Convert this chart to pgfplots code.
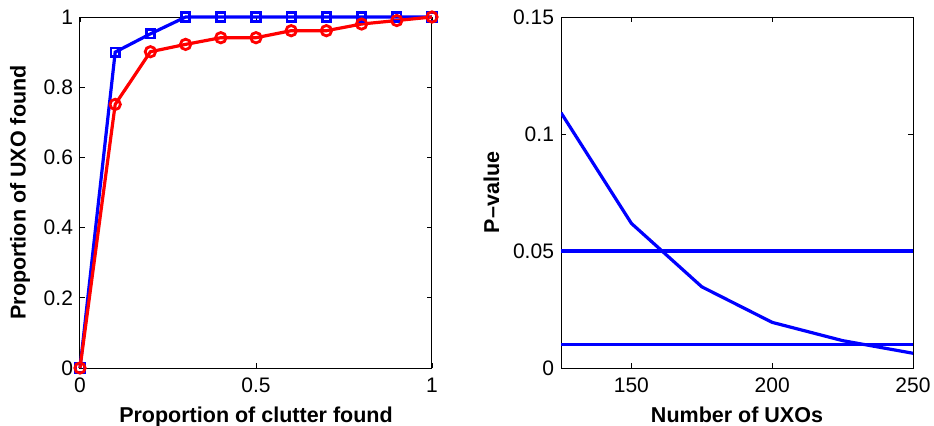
\documentclass[border=0pt]{standalone}
\usepackage{fontspec}
\setmainfont{Liberation Sans}
\usepackage{pgfplots}
\pgfplotsset{compat=1.18}

\definecolor{mblue}{rgb}{0,0,1}
\definecolor{mred}{rgb}{1,0,0}

\pgfplotsset{
  matlab/.style={
    scale only axis,
    width=176pt, height=175.5pt,
    axis line style={line width=0.5pt},
    tick align=inside,
    major tick length=2.5pt,
    tick style={black, line width=0.4pt},
    tick label style={font=\fontsize{10.5}{12}\selectfont, /pgf/number format/fixed},
    xticklabel style={yshift=-1.5pt},
    label style={font=\bfseries\fontsize{10.75}{13}\selectfont},
    /pgf/number format/assume math mode=true,
    scaled ticks=false,
  }
}

\begin{document}
\begin{tikzpicture}
\useasboundingbox (-40pt,-28.5pt) rectangle (427pt,184pt);

% Detection curves
\begin{axis}[matlab,
  at={(0pt,0pt)}, anchor=south west,
  xmin=0, xmax=1, ymin=0, ymax=1,
  xtick={0,0.5,1}, ytick={0,0.2,0.4,0.6,0.8,1},
  xlabel={Proportion of clutter found},
  ylabel={Proportion of UXO found},
  clip=false]
\addplot[mblue, line width=1.6pt, mark=square, mark size=2.1pt,
  mark options={solid, line width=1.4pt}] coordinates {
  (0,0) (0.1,0.90) (0.2,0.952) (0.3,1) (0.4,1) (0.5,1) (0.6,1)
  (0.7,1) (0.8,1) (0.9,1) (1,1)};
\addplot[mred, line width=1.6pt, mark=o, mark size=2.6pt,
  mark options={solid, line width=1.4pt}] coordinates {
  (0,0) (0.1,0.751) (0.2,0.901) (0.3,0.922) (0.4,0.941) (0.5,0.941)
  (0.6,0.961) (0.7,0.961) (0.8,0.980) (0.9,0.990) (1,1)};
\end{axis}

% P-value against number of UXOs
\begin{axis}[matlab,
  at={(240.5pt,0pt)}, anchor=south west,
  xmin=125, xmax=250, ymin=0, ymax=0.15,
  xtick={150,200,250}, ytick={0,0.05,0.1,0.15},
  xlabel={Number of UXOs},
  ylabel={P\textendash value}]
\addplot[mblue, line width=1.6pt] coordinates {
  (125,0.1091) (150,0.0618) (175,0.0347) (200,0.0195) (225,0.0117) (250,0.0063)};
\addplot[mblue, line width=1.6pt] coordinates {(125,0.05) (250,0.05)};
\addplot[mblue, line width=1.6pt] coordinates {(125,0.01) (250,0.01)};
\end{axis}
\end{tikzpicture}
\end{document}
